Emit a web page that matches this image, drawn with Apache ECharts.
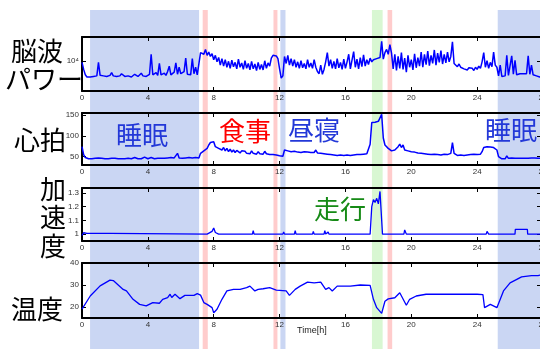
<!DOCTYPE html>
<html>
<head>
<meta charset="utf-8">
<script src="https://cdn.jsdelivr.net/npm/echarts@6/dist/echarts.min.js"></script>
<style>
  html, body { margin: 0; padding: 0; background: #fff; }
  #chart { width: 540px; height: 349px; }
</style>
</head>
<body>
<div id="chart"></div>
<script>
// sampling interval of the EEG / heart-rate logs, hours
const SAMPLE_STEP_H = 0.1;

// 脳波パワー, log10 of power, one value every 0.1 h from 0 to 28 h
const eegLogPower = [
  3.97, 3.84, 3.74, 3.70, 3.71, 3.70, 3.72, 3.71, 3.73, 3.72,
  3.97, 3.73, 3.74, 3.72, 3.73, 3.71, 3.74, 3.73, 3.78, 3.72,
  3.73, 3.71, 3.74, 3.72, 3.76, 3.73, 3.71, 3.74, 3.72, 3.73,
  3.70, 3.72, 3.75, 3.72, 3.71, 3.73, 3.77, 3.72, 3.74, 3.71,
  3.73, 3.75, 4.12, 3.74, 3.72, 3.78, 3.73, 3.95, 3.74, 3.72,
  3.77, 3.73, 3.80, 3.90, 3.74, 3.72, 3.79, 3.96, 3.75, 3.88,
  3.76, 3.73, 3.80, 4.05, 3.75, 3.78, 3.74, 4.04, 3.76, 3.88,
  3.74, 3.73, 4.15, 4.18, 4.12, 4.21, 4.10, 4.16, 4.08, 4.13,
  4.02, 4.10, 3.98, 4.06, 3.92, 4.04, 3.90, 4.02, 3.88, 3.99,
  3.86, 4.01, 3.89, 3.97, 3.85, 4.03, 3.88, 3.96, 3.84, 4.00,
  3.86, 3.95, 3.83, 3.99, 3.85, 3.94, 3.82, 3.97, 3.84, 3.93,
  3.83, 4.00, 3.86, 3.96, 3.90, 4.05, 4.10, 4.13, 4.09, 4.04,
  3.85, 3.68, 3.72, 4.08, 3.95, 4.10, 3.92, 4.04, 3.90, 4.02,
  3.88, 3.98, 3.86, 4.00, 3.87, 3.95, 3.85, 4.02, 3.88, 3.96,
  3.86, 4.02, 3.88, 3.80, 3.76, 3.92, 3.75, 3.84, 3.98, 4.15,
  3.90, 4.02, 3.86, 3.99, 3.85, 4.04, 3.87, 3.97, 3.84, 4.03,
  3.86, 3.98, 4.12, 3.85, 4.01, 4.17, 3.88, 4.03, 3.85, 4.06,
  3.89, 4.11, 3.90, 4.02, 3.93, 4.05, 3.98, 4.02, 3.99, 4.04,
  4.01, 4.06, 4.36, 4.03, 4.15, 4.21, 4.12, 4.30, 4.14, 3.85,
  4.12, 3.82, 4.08, 3.86, 4.15, 3.84, 4.05, 3.79, 4.10, 3.88,
  4.02, 3.83, 4.13, 3.87, 4.06, 3.90, 4.16, 3.88, 4.12, 3.93,
  4.18, 3.91, 4.10, 3.95, 4.20, 3.92, 4.14, 3.97, 4.19, 3.94,
  4.12, 3.96, 4.16, 3.98, 4.08, 4.35, 3.95, 3.92, 3.89, 3.94,
  3.88, 3.91, 3.85, 3.88, 3.83, 3.87, 3.84, 3.86, 3.82, 3.88,
  3.84, 3.90, 3.86, 3.98, 4.15, 3.88, 4.00, 3.86, 3.97, 3.89,
  4.16, 3.92, 3.88, 3.72, 3.92, 3.71, 3.73, 3.72, 4.10, 3.73,
  3.74, 4.09, 3.75, 4.01, 3.74, 3.75, 3.76, 3.77, 3.76, 3.77,
  3.76, 4.09, 3.75, 3.92, 3.74, 3.73, 3.72, 3.71, 3.70, 3.69,
  3.69
];

// 心拍 [bpm], one value every 0.1 h
const heartRate = [
  74, 55, 48, 46, 45, 46, 45, 45, 46, 45,
  47, 45, 46, 45, 45, 46, 45, 48, 46, 45,
  46, 45, 45, 46, 45, 46, 45, 47, 46, 45,
  45, 46, 48, 46, 45, 47, 45, 46, 49, 46,
  45, 46, 48, 46, 45, 47, 46, 49, 46, 47,
  46, 50, 47, 46, 48, 52, 47, 46, 58, 47,
  48, 46, 50, 47, 46, 48, 46, 47, 46, 48,
  46, 47, 58, 62, 64, 66, 70, 78, 84, 80,
  86, 74, 78, 70, 74, 66, 72, 64, 70, 62,
  68, 61, 66, 60, 65, 62, 59, 64, 60, 63,
  58, 62, 57, 64, 58, 61, 56, 62, 57, 60,
  56, 63, 57, 60, 55, 58, 55, 57, 54, 56,
  52, 50, 51, 66, 70, 64, 68, 62, 66, 63,
  65, 61, 64, 60, 63, 62, 65, 61, 63, 60,
  64, 60, 66, 59, 63, 58, 62, 57, 60, 56,
  59, 55, 58, 54, 57, 53, 56, 54, 57, 53,
  56, 54, 57, 53, 55, 54, 57, 55, 58, 55,
  57, 56, 58, 57, 60, 80, 132, 136, 133, 130,
  135, 138, 152, 95, 78, 74, 70, 66, 64, 62,
  66, 70, 74, 80, 72, 78, 66, 62, 64, 60,
  62, 58, 61, 57, 59, 56, 58, 55, 57, 54,
  56, 54, 55, 53, 56, 54, 55, 53, 54, 53,
  56, 54, 55, 53, 58, 84, 58, 55, 53, 55,
  54, 56, 53, 55, 54, 53, 55, 54, 56, 53,
  55, 54, 56, 62, 72, 70, 74, 71, 73, 69,
  72, 68, 66, 50, 46, 45, 46, 45, 52, 46,
  45, 47, 45, 46, 45, 46, 45, 46, 48, 46,
  47, 46, 48, 47, 49, 47, 48, 46, 47, 46,
  46
];

// 加速度 [G]
const accTime  = [0, 0.1, 0.15, 0.3, 1.7, 1.75, 7.6, 7.9, 8.0, 8.1, 8.3, 10.35, 10.4, 10.45,
  12.2, 12.25, 12.3, 12.9, 12.95, 13.0, 14.0, 14.05, 14.1, 14.7, 14.75, 14.8, 14.95, 15.0,
  17.5, 17.6, 17.7, 17.8, 17.9, 18.0, 18.1, 18.2, 18.25, 19.55, 19.6, 19.7,
  24.55, 24.6, 24.7, 26.3, 26.32, 27.05, 27.07, 28];
const accValue = [0.99, 1.01, 1.0, 1.005, 1.005, 1.0, 1.0, 1.02, 1.045, 1.012, 1.0, 1.0, 1.025, 1.0,
  1.0, 1.015, 1.0, 1.0, 1.025, 1.0, 1.0, 1.02, 1.0, 1.0, 1.025, 1.0, 1.015, 1.0,
  1.0, 1.2, 1.25, 1.23, 1.26, 1.22, 1.31, 1.3, 1.0, 1.0, 1.03, 1.0,
  1.0, 1.02, 1.0, 1.0, 1.035, 1.035, 1.0, 1.0];

// 温度 [°C]
const tempTime  = [0, 0.5, 1.1, 1.7, 1.9, 2.5, 2.7, 2.8, 3.1, 3.5, 3.9, 4.3, 4.7, 4.9, 5.2, 5.35,
  5.45, 5.65, 5.95, 6.25, 6.8, 7.0, 7.2, 7.4, 7.6, 7.9, 8.0, 8.2, 8.5, 8.8, 9.2, 9.6, 10.0,
  10.2, 10.5, 10.7, 11.0, 11.4, 11.8, 12.4, 12.6, 12.95, 13.25, 13.7, 14.1, 14.5, 14.8, 15.0,
  15.2, 15.5, 16.3, 16.9, 17.5, 17.7, 17.9, 18.2, 18.4, 18.6, 19.0, 19.3, 19.7, 19.9, 20.3,
  20.9, 22.0, 23.0, 24.0, 24.35, 24.45, 24.8, 25.2, 25.6, 26.0, 26.7, 27.3, 27.7, 28.0];
const tempValue = [19, 25, 29.6, 32.2, 32, 28, 27.3, 27.8, 23.5, 21.2, 20.5, 22, 21.7, 23.5, 24.3, 25.8,
  24.3, 25.8, 23.8, 25.3, 25.3, 26.1, 25.4, 22, 21.2, 19.7, 17.4, 19, 23.5, 27.3, 28, 28, 28.8,
  29.5, 27.3, 28, 28.3, 28.8, 27.7, 27.3, 25.3, 28, 29.5, 31.3, 31, 31.3, 28, 28.8,
  27.3, 29.5, 29.5, 30, 29.8, 23.5, 19.7, 17.1, 22.6, 23.7, 24.2, 26.5, 20.8, 23.5, 25,
  25.8, 25.8, 25.8, 25.8, 25.6, 19.7, 21.2, 19.7, 27.3, 31, 33.7, 34.3, 34.3, 34.8];

// shaded periods [start h, end h]
const sleepBands = [[0.49, 7.11], [25.25, 28]];
const mealBands  = [[7.33, 7.64], [11.63, 11.87], [18.56, 18.84]];
const napBands   = [[12.05, 12.36]];
const runBands   = [[17.61, 18.26]];

const eegTicks = [4];
const hrTicks = [50, 100, 150];
const accTicks = [1, 1.1, 1.2, 1.3];
const tempTicks = [20, 30, 40];

const bandColors = { sleep: '#cad6f3', meal: '#ffcccc', nap: '#cad6f3', run: '#d8f7d2' };
const LINE = '#0000ff';

const toPairs = (xs, ys) => ys.map((v, i) => [xs[i], v]);
const sampled = ys => ys.map((v, i) => [+(i * SAMPLE_STEP_H).toFixed(2), v]);

const bandData = [].concat(
  sleepBands.map(b => [b[0], b[1], 'sleep']),
  mealBands.map(b => [b[0], b[1], 'meal']),
  napBands.map(b => [b[0], b[1], 'nap']),
  runBands.map(b => [b[0], b[1], 'run'])
);

const panels = [
  {top: 37, height: 54, min: 3.44, max: 4.44, ticks: eegTicks, fmt: v => v === 4 ? '10⁴' : '', data: sampled(eegLogPower), width: 1.5},
  {top: 113, height: 52, min: 30, max: 155, ticks: hrTicks, fmt: v => String(v), data: sampled(heartRate), width: 1.5},
  {top: 188, height: 53, min: 0.95, max: 1.335, ticks: accTicks, fmt: v => String(v), data: toPairs(accTime, accValue), width: 1.3},
  {top: 263, height: 55, min: 15, max: 40, ticks: tempTicks, fmt: v => String(v), data: toPairs(tempTime, tempValue), width: 1.3}
];

const grid = [], xAxis = [], yAxis = [], series = [];
const tickStyle = {inside: true, length: 4, lineStyle: {color: '#000', width: 1}};
const labelStyle = {fontSize: 8, color: '#333', fontFamily: 'Liberation Sans'};
// the plot runs slightly past the right edge of the picture
const gridBox = {left: 82, right: -3, outerBoundsMode: 'none', containLabel: false};

panels.forEach((p, i) => {
  grid.push(Object.assign({top: p.top, height: p.height}, gridBox));
  // bottom and top frame lines with inward ticks
  xAxis.push({
    type: 'value', gridIndex: i, min: 0, max: 28, interval: 4, position: 'bottom',
    axisLine: {show: true, onZero: false, lineStyle: {color: '#000', width: 2}},
    axisTick: tickStyle, splitLine: {show: false},
    axisLabel: Object.assign({margin: 3, showMaxLabel: true, hideOverlap: false}, labelStyle)
  });
  xAxis.push({
    type: 'value', gridIndex: i, min: 0, max: 28, interval: 4, position: 'top',
    axisLine: {show: true, onZero: false, lineStyle: {color: '#000', width: 2}},
    axisTick: tickStyle, splitLine: {show: false}, axisLabel: {show: false}
  });
  yAxis.push({
    type: 'value', gridIndex: i, min: p.min, max: p.max, position: 'left',
    axisLine: {show: true, onZero: false, lineStyle: {color: '#000', width: 2}},
    axisTick: Object.assign({customValues: p.ticks}, tickStyle),
    axisLabel: Object.assign({customValues: p.ticks, margin: 3, formatter: p.fmt}, labelStyle),
    splitLine: {show: false}
  });
  yAxis.push({
    type: 'value', gridIndex: i, min: p.min, max: p.max, position: 'right',
    axisLine: {show: true, onZero: false, lineStyle: {color: '#000', width: 2}},
    axisTick: Object.assign({customValues: p.ticks}, tickStyle, {length: 6}),
    axisLabel: {show: false}, splitLine: {show: false}
  });
  series.push({
    type: 'line', xAxisIndex: i * 2, yAxisIndex: i * 2, data: p.data,
    showSymbol: false, symbol: 'none', z: 3,
    lineStyle: {color: LINE, width: p.width}, itemStyle: {color: LINE}
  });
});

// background grid for the shaded periods, full height
grid.push(Object.assign({top: 10, bottom: 0}, gridBox));
xAxis.push({type: 'value', gridIndex: 4, min: 0, max: 28, show: false});
yAxis.push({type: 'value', gridIndex: 4, min: 0, max: 1, show: false});
series.push({
  type: 'custom', xAxisIndex: 8, yAxisIndex: 8, data: bandData, z: -10,
  encode: {x: [0, 1]},
  renderItem: (params, api) => {
    const a = api.coord([api.value(0), 1]);
    const b = api.coord([api.value(1), 0]);
    const kind = bandData[params.dataIndex][2];
    return {type: 'rect', shape: {x: a[0], y: a[1], width: b[0] - a[0], height: b[1] - a[1]},
      style: {fill: bandColors[kind]}};
  }
});

const cjk = '"Noto Sans CJK JP", "Noto Sans CJK SC", sans-serif';
const label = (text, x, y, color, size) => ({
  type: 'text', z: 100,
  style: {text: text, x: x, y: y, fill: color || '#000', font: (size || 26) + 'px ' + cjk,
    textAlign: 'center', textVerticalAlign: 'middle', align: 'center', verticalAlign: 'middle'}
});

const graphic = [
  label('脳波', 37, 51),
  label('パワー', 44, 79),
  label('心拍', 40, 140),
  label('加', 53, 189),
  label('速', 53, 217),
  label('度', 53, 246),
  label('温度', 37, 309),
  label('睡眠', 142, 135, '#2338d8'),
  label('食事', 245, 131, '#ff0000'),
  label('昼寝', 314, 130, '#2338d8'),
  label('睡眠', 511, 130, '#2338d8'),
  label('走行', 340, 209, '#168a16'),
  {type: 'text', z: 100, style: {text: 'Time[h]', x: 297, y: 331, fill: '#222',
    font: '9px "Liberation Sans", sans-serif', textVerticalAlign: 'middle', verticalAlign: 'middle'}}
];

const myChart = echarts.init(document.getElementById('chart'));
myChart.setOption({
  animation: false,
  backgroundColor: '#fff',
  grid, xAxis, yAxis, series, graphic
});
</script>
</body>
</html>
